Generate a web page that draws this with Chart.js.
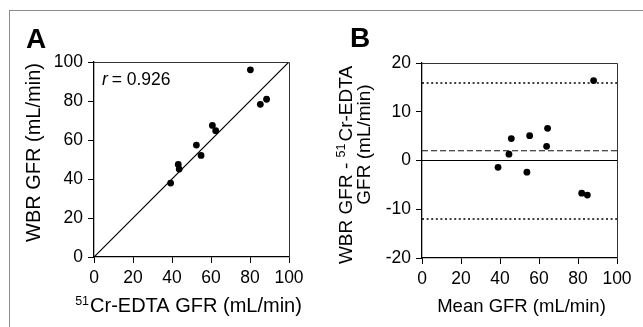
<!DOCTYPE html>
<html><head><meta charset="utf-8">
<script src="https://cdn.jsdelivr.net/npm/chart.js@4/dist/chart.umd.min.js"></script>
<style>
body{margin:0;background:#fff;width:643px;height:327px;overflow:hidden;position:relative}
#frame{position:absolute;left:9px;top:10px;width:640px;height:330px;border-top:1px solid #8c8c8c;border-left:1px solid #8c8c8c}
canvas{position:absolute;top:0}
#ca{left:0}
#cb{left:320px}
</style></head>
<body>
<div id="frame"></div>
<canvas id="ca" width="320" height="327"></canvas>
<canvas id="cb" width="323" height="327"></canvas>
<script>
// ---- Data ----
const crEdtaGfr = [39.3, 43.2, 43.7, 52.5, 54.9, 60.7, 62.4, 80.2, 85.3, 88.5];
const wbrGfr    = [37.9, 47.5, 45.1, 57.4, 52.1, 67.5, 64.8, 96.0, 78.3, 80.9];
const identityX = [0, 100];
const identityY = [0, 100];
const meanGfr   = [39.0, 44.6, 45.8, 53.8, 55.2, 63.9, 64.4, 81.9, 84.8, 88.0];
const diffGfr   = [-1.4, 1.3, 4.5, -2.4, 5.1, 2.9, 6.6, -6.7, -7.1, 16.4];
const lineX     = [0, 100];
const biasLine  = 2.0;
const upperLoA  = 15.9;
const lowerLoA  = -12.0;
const zeroLine  = 0;
const ticksA_x  = [0, 20, 40, 60, 80, 100];
const ticksA_y  = [0, 20, 40, 60, 80, 100];
const ticksB_x  = [0, 20, 40, 60, 80, 100];
const ticksB_y  = [-20, -10, 0, 10, 20];
const rText = '0.926';

const FONT = "'Liberation Sans', Arial, Helvetica, sans-serif";
Chart.defaults.font.family = FONT;
Chart.defaults.color = '#000';

function pts(xs, ys){ return xs.map((x,i)=>({x:x, y:ys[i]})); }
function hline(y){ return lineX.map(x=>({x:x, y:y})); }

function axis(min, max, tickArr, fitFn){
  return {
    type:'linear', min:min, max:max,
    afterBuildTicks(s){ s.ticks = tickArr.map(v=>({value:v})); },
    ticks:{color:'#000', font:{size:17.5, family:FONT}, padding:5, maxRotation:0, autoSkip:false},
    grid:{drawOnChartArea:false, drawTicks:true, tickLength:6, tickWidth:1, tickColor:'#000', color:'#000'},
    border:{display:true, color:'#000', width:1.3},
    afterFit: fitFn
  };
}

function frameBox(ctx, a){
  ctx.save();
  ctx.strokeStyle = '#333';
  ctx.lineWidth = 1;
  ctx.beginPath();
  ctx.moveTo(a.left, a.top+0.5); ctx.lineTo(a.right+0.5, a.top+0.5); ctx.lineTo(a.right+0.5, a.bottom);
  ctx.stroke();
  ctx.restore();
}

const pluginA = {
  id:'decorA',
  afterDraw(chart){
    const ctx = chart.ctx, a = chart.chartArea;
    frameBox(ctx, a);
    ctx.save();
    ctx.fillStyle = '#000';
    // panel letter
    ctx.font = "bold 28px " + FONT;
    ctx.textBaseline = 'alphabetic'; ctx.textAlign = 'left';
    ctx.fillText('A', 26, 48);
    // r value
    ctx.font = "italic 17.5px " + FONT;
    ctx.fillText('r', a.left + 8, 85);
    const rw = ctx.measureText('r').width;
    ctx.font = "17.5px " + FONT;
    ctx.fillText(' = ' + rText, a.left + 8 + rw - 1, 85);
    // x title with superscript
    const sup = '51', main = 'Cr-EDTA GFR (mL/min)';
    ctx.font = "12.5px " + FONT; const sw = ctx.measureText(sup).width;
    ctx.font = "20px " + FONT; const mw = ctx.measureText(main).width;
    const total = sw + 1 + mw;
    const x0 = 188.5 - total/2;
    ctx.font = "12.5px " + FONT; ctx.fillText(sup, x0, 305);
    ctx.font = "20px " + FONT; ctx.fillText(main, x0 + sw + 1, 312);
    // y title
    ctx.translate(40, 152.5);
    ctx.rotate(-Math.PI/2);
    ctx.textAlign = 'center';
    ctx.font = "20px " + FONT;
    ctx.fillText('WBR GFR (mL/min)', 0, 0);
    ctx.restore();
  }
};

const pluginB = {
  id:'decorB',
  afterDraw(chart){
    const ctx = chart.ctx, a = chart.chartArea;
    frameBox(ctx, a);
    ctx.save();
    ctx.fillStyle = '#000';
    ctx.font = "bold 28px " + FONT;
    ctx.textBaseline = 'alphabetic'; ctx.textAlign = 'left';
    ctx.fillText('B', 30, 47);
    // x title
    ctx.textAlign = 'center';
    ctx.font = "18.5px " + FONT;
    ctx.fillText('Mean GFR (mL/min)', 201.5, 312);
    // y title line 1 with superscript
    ctx.save();
    ctx.translate(32, 165);
    ctx.rotate(-Math.PI/2);
    ctx.textAlign = 'left';
    const p1 = 'WBR GFR - ', sup = '51', p2 = 'Cr-EDTA';
    ctx.font = "19px " + FONT; const w1 = ctx.measureText(p1).width, w3 = ctx.measureText(p2).width;
    ctx.font = "12.5px " + FONT; const w2 = ctx.measureText(sup).width;
    const tot = w1 + w2 + 2 + w3;
    let x = -tot/2;
    ctx.font = "19px " + FONT; ctx.fillText(p1, x, 0); x += w1;
    ctx.font = "12.5px " + FONT; ctx.fillText(sup, x, -7); x += w2 + 2;
    ctx.font = "19px " + FONT; ctx.fillText(p2, x, 0);
    ctx.restore();
    // y title line 2
    ctx.save();
    ctx.translate(50, 144.5);
    ctx.rotate(-Math.PI/2);
    ctx.textAlign = 'center';
    ctx.font = "19px " + FONT;
    ctx.fillText('GFR (mL/min)', 0, 0);
    ctx.restore();
    ctx.restore();
  }
};

const common = {
  responsive:false, animation:false,
  plugins:{legend:{display:false}, tooltip:{enabled:false}},
  elements:{line:{tension:0}}
};

new Chart(document.getElementById('ca'), {
  type:'scatter',
  data:{datasets:[
    {data:pts(identityX, identityY), showLine:true, borderColor:'#000', borderWidth:1.2, pointRadius:0, order:2},
    {data:pts(crEdtaGfr, wbrGfr), backgroundColor:'#000', borderColor:'#000', pointRadius:3.4, pointBorderWidth:0, order:1}
  ]},
  options:Object.assign({}, common, {
    layout:{padding:{left:0, top:62, right:31, bottom:0}},
    scales:{
      x: axis(0, 100, ticksA_x, s=>{s.height = 70;}),
      y: axis(0, 100, ticksA_y, s=>{s.width = 94;})
    }
  }),
  plugins:[pluginA]
});

new Chart(document.getElementById('cb'), {
  type:'scatter',
  data:{datasets:[
    {data:hline(zeroLine), showLine:true, borderColor:'#000', borderWidth:1.2, pointRadius:0, order:3},
    {data:hline(biasLine), showLine:true, borderColor:'#111', borderWidth:1.1, borderDash:[6,3], pointRadius:0, order:3},
    {data:hline(upperLoA), showLine:true, borderColor:'#000', borderWidth:1.3, borderDash:[2,2.6], pointRadius:0, order:3},
    {data:hline(lowerLoA), showLine:true, borderColor:'#000', borderWidth:1.3, borderDash:[2,2.6], pointRadius:0, order:3},
    {data:pts(meanGfr, diffGfr), backgroundColor:'#000', borderColor:'#000', pointRadius:3.4, pointBorderWidth:0, order:1}
  ]},
  options:Object.assign({}, common, {
    layout:{padding:{left:0, top:63, right:26, bottom:0}},
    scales:{
      x: axis(0, 100, ticksB_x, s=>{s.height = 69;}),
      y: axis(-20, 20, ticksB_y, s=>{s.width = 102;})
    }
  }),
  plugins:[pluginB]
});
</script>
</body></html>
